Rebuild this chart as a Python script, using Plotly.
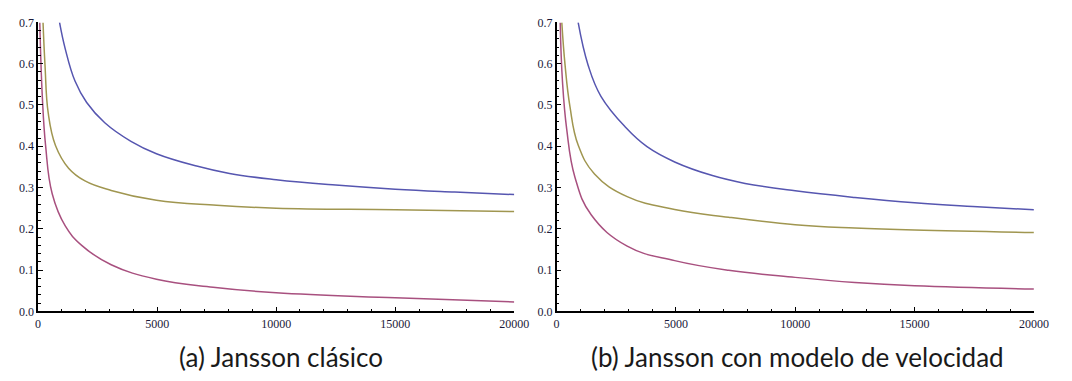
import plotly.graph_objects as go

# ---- data ----
# (a) Jansson clásico
a_blue_x = [900, 1140, 1550, 2040, 2800, 3900, 4970, 6660, 8040, 10000, 12500, 15000, 17500, 20000]
a_blue_y = [0.700, 0.636, 0.558, 0.506, 0.457, 0.412, 0.382, 0.352, 0.334, 0.319, 0.306, 0.296, 0.289, 0.283]
a_olive_x = [207, 290, 426, 730, 1280, 1970, 3070, 4970, 7500, 10000, 15000, 20000]
a_olive_y = [0.700, 0.597, 0.480, 0.402, 0.347, 0.316, 0.293, 0.269, 0.257, 0.250, 0.246, 0.242]
a_mag_x = [70, 178, 314, 592, 1140, 1830, 3070, 4970, 7350, 10000, 15000, 20000]
a_mag_y = [0.700, 0.519, 0.402, 0.285, 0.207, 0.160, 0.113, 0.078, 0.0585, 0.045, 0.033, 0.023]

# (b) Jansson con modelo de velocidad
b_blue_x = [905, 1320, 1860, 2890, 3790, 4950, 6530, 7900, 10000, 12500, 15000, 17440, 20000]
b_blue_y = [0.700, 0.597, 0.521, 0.446, 0.399, 0.362, 0.329, 0.310, 0.292, 0.276, 0.263, 0.254, 0.246]
b_olive_x = [220, 356, 562, 905, 1590, 2960, 4950, 7210, 10000, 12500, 15000, 20000]
b_olive_y = [0.700, 0.597, 0.496, 0.403, 0.333, 0.278, 0.247, 0.228, 0.210, 0.202, 0.197, 0.191]
b_mag_x = [152, 247, 424, 770, 1450, 2960, 4950, 7210, 10000, 12500, 15000, 20000]
b_mag_y = [0.700, 0.558, 0.442, 0.325, 0.234, 0.158, 0.123, 0.0996, 0.0824, 0.070, 0.062, 0.054]

captions = ["(a) Jansson clásico", "(b) Jansson con modelo de velocidad"]

BLUE = "#5656B0"
OLIVE = "#A09650"
MAG = "#A8507F"

W, H = 1072, 381
fig = go.Figure()

panels = [
    ("x", "y", [(a_blue_x, a_blue_y, BLUE), (a_olive_x, a_olive_y, OLIVE), (a_mag_x, a_mag_y, MAG)]),
    ("x2", "y2", [(b_blue_x, b_blue_y, BLUE), (b_olive_x, b_olive_y, OLIVE), (b_mag_x, b_mag_y, MAG)]),
]
for xa, ya, series in panels:
    for xs, ys, col in series:
        fig.add_trace(go.Scatter(x=xs, y=ys, mode="lines", xaxis=xa, yaxis=ya,
                                 line=dict(color=col, width=1.5, shape="spline", smoothing=1.2),
                                 showlegend=False, hoverinfo="skip"))

tickfont = dict(family="Liberation Serif", size=12, color="#1a1a3a")
y_dom = [1 - 316 / H, 1 - 16 / H]
x_doms = [[35.7 / W, 520 / W], [563 / W, 1048.5 / W]]

common_x = dict(range=[0, 20000], tickmode="linear", tick0=0, dtick=5000, tickformat="d",
                ticks="inside", ticklen=5,
                tickwidth=1, tickcolor="black", showline=True, linecolor="black",
                linewidth=1.5, showgrid=False, zeroline=False, tickfont=tickfont,
                minor=dict(dtick=1000, ticks="inside", ticklen=3, tickcolor="black", tickwidth=1),
                layer="above traces", fixedrange=True)
common_y = dict(range=[0, 0.7], tickmode="linear", tick0=0, dtick=0.1, tickformat=".1f",
                ticks="inside", ticklen=5,
                tickwidth=1, tickcolor="black", showline=True, linecolor="black",
                linewidth=1.5, showgrid=False, zeroline=False, tickfont=tickfont,
                minor=dict(dtick=0.02, tick0=0, ticks="inside", ticklen=3, tickcolor="black", tickwidth=1),
                layer="above traces", fixedrange=True)

fig.update_layout(
    width=W, height=H, autosize=False,
    margin=dict(l=0, r=0, t=0, b=0),
    paper_bgcolor="white", plot_bgcolor="white",
    xaxis=dict(domain=x_doms[0], anchor="y", **common_x),
    yaxis=dict(domain=y_dom, anchor="x", **common_y),
    xaxis2=dict(domain=x_doms[1], anchor="y2", **common_x),
    yaxis2=dict(domain=y_dom, anchor="x2", **common_y),
)

cap_x = [282.5 / W, 808.5 / W]
for cx, txt in zip(cap_x, captions):
    fig.add_annotation(text=txt, x=cx, y=1 - 363 / H, xref="paper", yref="paper",
                       xanchor="center", yanchor="middle", showarrow=False,
                       font=dict(family="Lato", size=26, color="#1a1a1a"))

fig.write_html("out.html")
